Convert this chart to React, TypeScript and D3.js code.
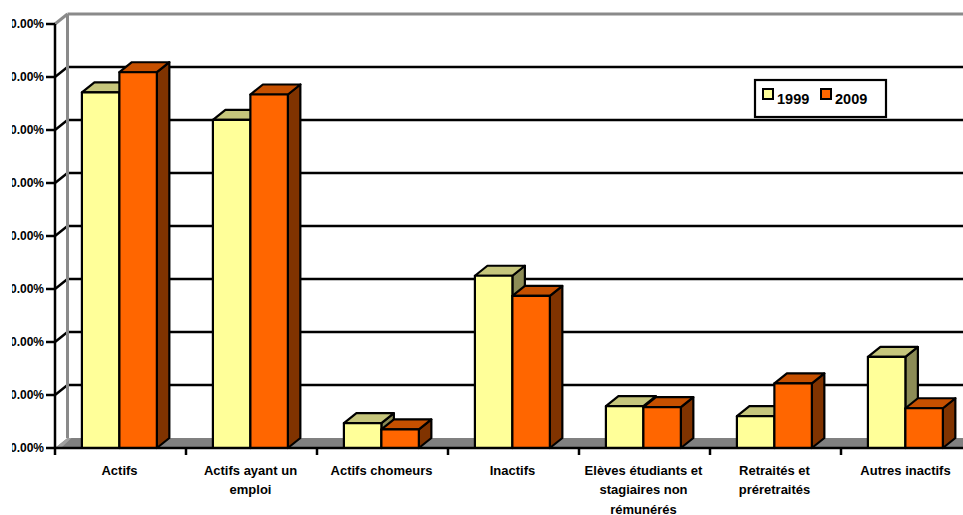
import React from "react";
import * as d3 from "d3";

const categories = [
  "Actifs",
  "Actifs ayant un\nemploi",
  "Actifs chomeurs",
  "Inactifs",
  "Elèves étudiants et\nstagiaires non\nrémunérés",
  "Retraités et\npréretraités",
  "Autres inactifs",
];
const seriesNames = ["1999", "2009"];
const values1999 = [0.671, 0.619, 0.047, 0.325, 0.079, 0.06, 0.172];
const values2009 = [0.709, 0.667, 0.035, 0.287, 0.077, 0.122, 0.075];
const yTicks = [0, 0.1, 0.2, 0.3, 0.4, 0.5, 0.6, 0.7, 0.8];

const W = 963;
const H = 515;
const FRONT_X = 55;
const RIGHT_X = 972;
const BASE_Y = 448;
const TOP_Y = 24;
const DX = 12.5;
const DY = 10;

const palettes = [
  { front: "#FFFF99", top: "#C6C67C", side: "#8C8C56" },
  { front: "#FF6600", top: "#C65000", side: "#803300" },
];

export default function App() {
  const y = d3.scaleLinear().domain([0, 0.8]).range([BASE_Y, TOP_Y]);
  const x = d3.scaleBand<string>().domain(categories).range([FRONT_X, RIGHT_X]).paddingInner(0).paddingOuter(0);
  const inner = d3
    .scaleBand<string>()
    .domain(seriesNames)
    .range([0, x.bandwidth()])
    .paddingInner(0)
    .paddingOuter(0.748)
    .align(0.48);
  const fmt = d3.format(".2%");
  const data = [values1999, values2009];
  const font = "'Liberation Sans', Arial, sans-serif";
  const gray = "#8a8a8a";

  return (
    <svg width={W} height={H} style={{ position: "absolute", left: 0, top: 0, background: "#fff" }} fontFamily={font}>
      <defs>
        <clipPath id="ylabClip">
          <rect x={12} y={0} width={60} height={H} />
        </clipPath>
      </defs>
      {/* floor */}
      <polygon
        points={`${FRONT_X},${BASE_Y} ${FRONT_X + DX},${BASE_Y - DY} ${W},${BASE_Y - DY} ${W},${BASE_Y}`}
        fill="#808080"
      />
      <polygon
        points={`${FRONT_X},${BASE_Y} ${FRONT_X + DX},${BASE_Y - DY} ${FRONT_X + DX + 4},${BASE_Y - DY} ${FRONT_X + 6},${BASE_Y}`}
        fill="#a0a0a0"
      />
      {/* gridlines */}
      {yTicks.slice(1, -1).map((t) => (
        <g key={t}>
          <line x1={FRONT_X} y1={y(t)} x2={FRONT_X + DX} y2={y(t) - DY} stroke="#000" strokeWidth={2.5} />
          <line x1={FRONT_X + DX} y1={y(t) - DY} x2={W} y2={y(t) - DY} stroke="#000" strokeWidth={2.5} />
        </g>
      ))}
      {/* walls frame */}
      <line x1={FRONT_X + DX} y1={TOP_Y - DY} x2={FRONT_X + DX} y2={BASE_Y - DY} stroke={gray} strokeWidth={3} />
      <line x1={FRONT_X + DX} y1={TOP_Y - DY} x2={W} y2={TOP_Y - DY} stroke={gray} strokeWidth={3} />
      <line x1={FRONT_X} y1={TOP_Y} x2={FRONT_X + DX} y2={TOP_Y - DY} stroke={gray} strokeWidth={3} />
      {/* bars */}
      {categories.map((c, i) => (
        <g key={c}>
          {data.map((vals, s) => {
            const x0 = (x(c) as number) + (inner(seriesNames[s]) as number);
            const x1 = x0 + inner.bandwidth();
            const yt = y(vals[i]);
            const p = palettes[s];
            return (
              <g key={s} stroke="#000" strokeWidth={2.2} strokeLinejoin="round">
                <polygon
                  points={`${x1},${yt} ${x1 + DX},${yt - DY} ${x1 + DX},${BASE_Y - DY} ${x1},${BASE_Y}`}
                  fill={p.side}
                />
                <polygon
                  points={`${x0},${yt} ${x1},${yt} ${x1 + DX},${yt - DY} ${x0 + DX},${yt - DY}`}
                  fill={p.top}
                />
                <rect x={x0} y={yt} width={x1 - x0} height={BASE_Y - yt} fill={p.front} />
              </g>
            );
          })}
        </g>
      ))}
      {/* front baseline & axis */}
      <line x1={FRONT_X} y1={BASE_Y} x2={W} y2={BASE_Y} stroke="#000" strokeWidth={2.5} />
      <line x1={FRONT_X} y1={TOP_Y} x2={FRONT_X} y2={BASE_Y + 7} stroke="#000" strokeWidth={2.5} />
      {yTicks.map((t) => (
        <g key={t}>
          <line x1={FRONT_X - 9} y1={y(t)} x2={FRONT_X} y2={y(t)} stroke="#000" strokeWidth={2.5} />
          <text
            x={44}
            y={y(t) + 4}
            textAnchor="end"
            fontSize={12}
            fontWeight="bold"
            fill="#000"
            clipPath="url(#ylabClip)"
          >
            {fmt(t)}
          </text>
        </g>
      ))}
      {categories.map((c, i) => (
        <g key={c}>
          {i > 0 && (
            <line x1={x(c) as number} y1={BASE_Y} x2={x(c) as number} y2={BASE_Y + 7} stroke="#000" strokeWidth={2.5} />
          )}
          <text textAnchor="middle" fontSize={13} fontWeight="bold" fill="#000">
            {c.split("\n").map((line, k) => (
              <tspan key={k} x={(x(c) as number) + x.bandwidth() / 2 - 1} y={475 + k * 19.3}>
                {line}
              </tspan>
            ))}
          </text>
        </g>
      ))}
      {/* legend */}
      <g>
        <rect x={755} y={80} width={131} height={37} fill="#fff" stroke="#000" strokeWidth={2.2} />
        {seriesNames.map((s, k) => (
          <g key={s}>
            <rect x={763 + k * 58} y={89} width={10} height={10} fill={palettes[k].front} stroke="#000" strokeWidth={2} />
            <text x={777 + k * 58} y={104} fontSize={14.5} fontWeight="bold" fill="#000">
              {s}
            </text>
          </g>
        ))}
      </g>
    </svg>
  );
}
